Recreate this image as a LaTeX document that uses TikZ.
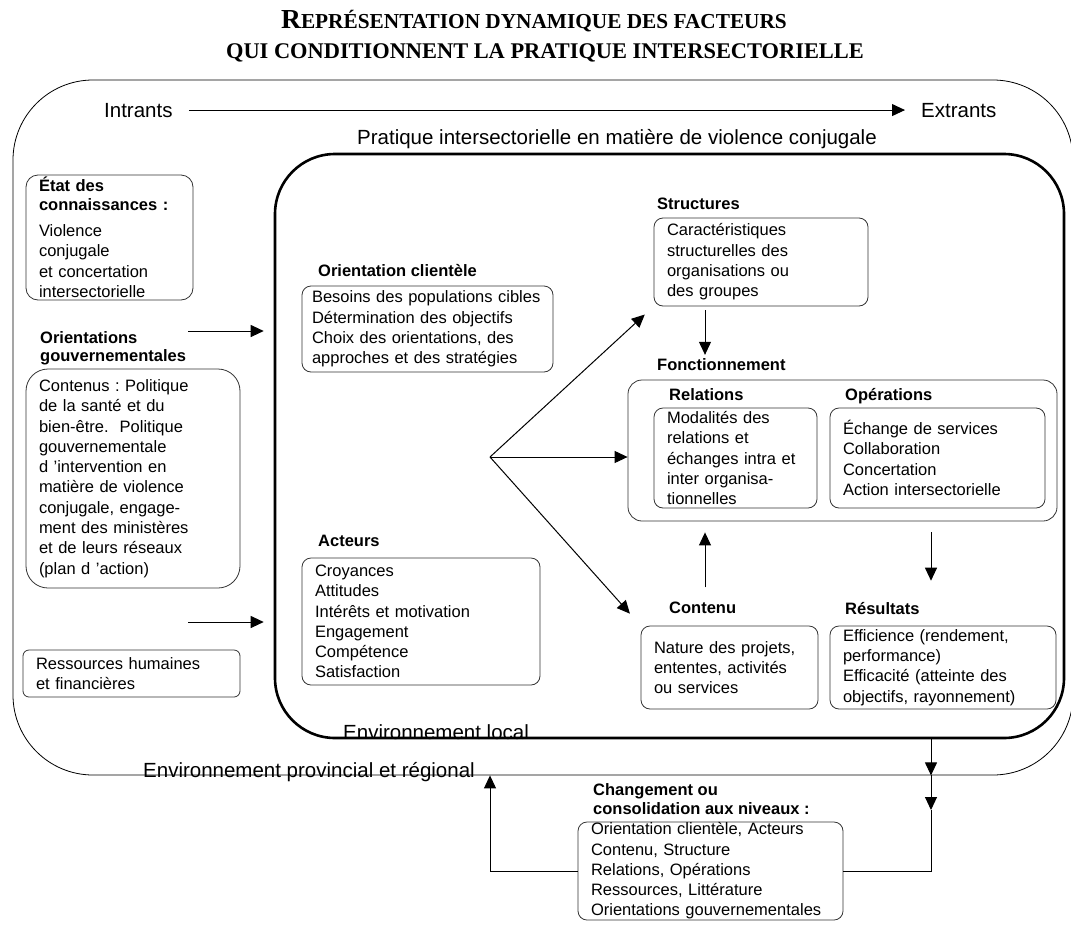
\documentclass[tikz,border=0pt]{standalone}
\usepackage{fontspec}
\setmainfont{Liberation Sans}
\newfontfamily\titlefont{Liberation Serif}
\usetikzlibrary{arrows.meta, positioning, calc}
\newcommand{\txt}{\fontsize{16.5}{20.3}\selectfont}
\newcommand{\grand}{\fontsize{20.5}{24}\selectfont}
\frenchspacing

\begin{document}
\begin{tikzpicture}[x=1pt, y=-1pt,
  box/.style={draw=black!80, line width=0.8pt, rounded corners=9pt, align=left, inner xsep=13pt, inner ysep=0pt, font=\txt},
  lbl/.style={anchor=base west, inner sep=0pt, font=\txt\bfseries},
  mlbl/.style={anchor=north west, inner sep=0pt, align=left, font=\txt\bfseries},
  big/.style={anchor=base west, inner sep=0pt, font=\grand},
  arr/.style={-{Triangle[length=13pt, width=12pt]}, line width=1pt},
  env/.style={draw, rounded corners=80pt, line width=0.8pt, inner sep=0pt},
  loc/.style={draw, rounded corners=60pt, line width=2.6pt, inner sep=0pt}
]
\useasboundingbox (0,0) rectangle (1071,924);

% Titre
\node[anchor=base, inner sep=0pt, font=\titlefont\bfseries] (titre1) at (534,28)
  {{\fontsize{27.5}{30}\selectfont R}{\fontsize{21.3}{24}\selectfont EPRÉSENTATION DYNAMIQUE DES FACTEURS}};
\node[anchor=base, inner sep=0pt, font=\titlefont\bfseries\fontsize{22.4}{24}\selectfont] (titre2) at (545,58)
  {QUI CONDITIONNENT LA PRATIQUE INTERSECTORIELLE};

% Environnements (provincial et local)
\node[env, minimum width=1060, minimum height=695] (prov) at (543,427.5) {};
\node[loc, minimum width=789, minimum height=584] (local) at (669.5,446) {};
\node[big] (envprov) at (143,777) {Environnement provincial et régional};
\node[big] (envloc) at (343,739) {Environnement local};

% Intrants / Extrants
\node[big] (intr) at (104,117) {Intrants};
\node[big] (extr) at (921,117) {Extrants};
\draw[arr, shorten <=16pt, shorten >=16pt] (intr) -- (extr);
\node[big, anchor=base] (pratique) at (617,144) {Pratique intersectorielle en matière de violence conjugale};

% Colonne de gauche
\node[box, rounded corners=12pt, text width=141, minimum height=125] (etat) at (109.5,237.5)
  {\textbf{État des}\\[-2pt]\textbf{connaissances :}\\[6pt]Violence\\conjugale\\et concertation\\intersectorielle};
\node[mlbl] (orgouv) at (40,331) {Orientations\\[-2pt]gouvernementales};
\node[box, rounded corners=22pt, text width=188, minimum height=219] (contenus) at (133,478.5)
  {Contenus : Politique\\de la santé et du\\bien-être.\ \ Politique\\gouvernementale\\d 'intervention en\\matière de violence\\conjugale, engage-\\ment des ministères\\et de leurs réseaux\\(plan d 'action)};
\node[box, rounded corners=6pt, text width=191, minimum height=47] (ress) at (131.5,673.5)
  {Ressources humaines\\et financières};
\coordinate (in1) at (188,331);
\coordinate (in2) at (188,622);
\draw[arr, shorten >=10pt] (in1) -- (in1 -| local.west);
\draw[arr, shorten >=10pt] (in2) -- (in2 -| local.west);

% Orientation clientele et acteurs
\node[lbl] (oclbl) at (318,276) {Orientation clientèle};
\node[box, inner xsep=10pt, text width=231, minimum height=86] (oc) at (427.5,329)
  {Besoins des populations cibles\\Détermination des objectifs\\Choix des orientations, des\\approches et des stratégies};
\node[lbl] (actlbl) at (318,546) {Acteurs};
\node[box, text width=212, minimum height=127] (act) at (421,621.5)
  {Croyances\\Attitudes\\Intérêts et motivation\\Engagement\\Compétence\\Satisfaction};

% Structures
\node[lbl] (strlbl) at (657,209) {Structures};
\node[box, text width=188, minimum height=88] (struc) at (761,262)
  {Caractéristiques\\structurelles des\\organisations ou\\des groupes};

% Fonctionnement
\node[lbl] (fctlbl) at (657,370) {Fonctionnement};
\node[box, rounded corners=14pt, minimum width=429, minimum height=141] (fct) at (842.5,450.5) {};
\node[lbl] (rellbl) at (669,400) {Relations};
\node[box, text width=137, minimum height=100] (rel) at (735.5,458)
  {Modalités des\\relations et\\échanges intra et\\inter organisa-\\tionnelles};
\node[lbl] (opelbl) at (845,400) {Opérations};
\node[box, text width=189, minimum height=100] (ope) at (937.5,458)
  {Échange de services\\Collaboration\\Concertation\\Action intersectorielle};

% Contenu et resultats
\node[lbl] (cntlbl) at (669,613) {Contenu};
\node[box, text width=151, minimum height=83] (cnt) at (729.5,667.5)
  {Nature des projets,\\ententes, activités\\ou services};
\node[lbl] (reslbl) at (845,614) {Résultats};
\node[box, text width=200, minimum height=83] (res) at (943,667.5)
  {Efficience (rendement,\\performance)\\Efficacité (atteinte des\\objectifs, rayonnement)};

% Fleches internes
\coordinate (fan) at (490,457);
\coordinate (xs) at (705,0);
\coordinate (xr) at (931,0);
\draw[arr, shorten >=12pt] (fan) -- (struc.south west);
\draw[arr] (fan) -- (fan -| fct.west);
\draw[arr, shorten >=16pt] (fan) -- (cnt.north west);
\draw[arr, shorten <=4pt, shorten >=3pt] (struc.south -| xs) -- (fctlbl.north -| xs);
\draw[arr, shorten <=14pt, shorten >=11pt] (cntlbl.north -| xs) -- (fct.south -| xs);
\draw[arr, shorten <=11pt, shorten >=21pt] (fct.south -| xr) -- (reslbl.north -| xr);

% Changement ou consolidation
\node[mlbl] (chglbl) at (593,783) {Changement ou\\[-1pt]consolidation aux niveaux :};
\node[box, text width=239, minimum height=98] (chg) at (710.5,871)
  {Orientation clientèle, Acteurs\\Contenu, Structure\\Relations, Opérations\\Ressources, Littérature\\Orientations gouvernementales};
\coordinate (bas) at (931,810);
\coordinate (xl) at (490,0);
\draw[arr] (local.south -| xr) -- (prov.south -| xr);
\draw[arr] (prov.south -| xr) -- (bas);
\draw[line width=1pt] (bas) |- (chg.east);
\draw[arr] (chg.west) -| (prov.south -| xl);

\end{tikzpicture}
\end{document}
